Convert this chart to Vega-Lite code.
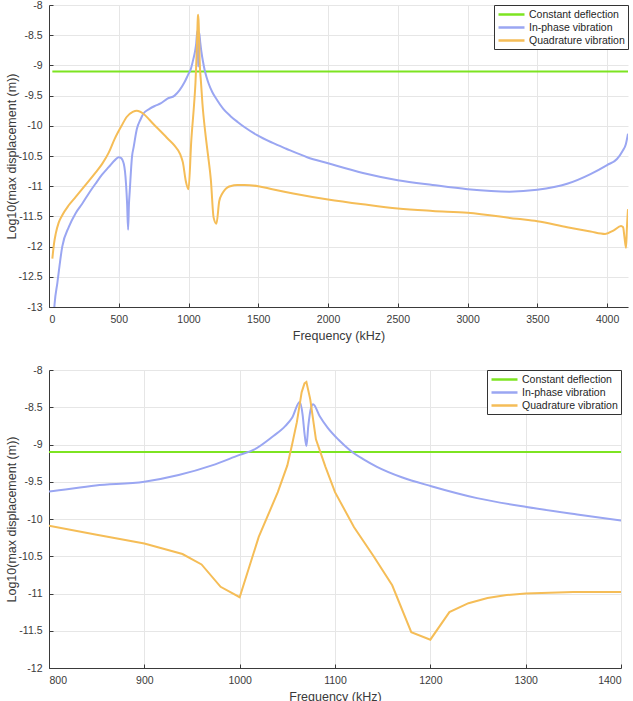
{
  "$schema": "https://vega.github.io/schema/vega-lite/v6.json",
  "padding": {"left": 5, "top": 0, "right": 0, "bottom": 0},
  "background": "white",
  "config": {
    "font": "Liberation Sans",
    "view": {"stroke": null},
    "axis": {
      "labelFont": "Liberation Sans",
      "titleFont": "Liberation Sans",
      "labelFontSize": 10.5,
      "titleFontSize": 12.5,
      "titleFontWeight": "normal",
      "labelColor": "#3a3a3a",
      "titleColor": "#3a3a3a",
      "domainColor": "#3a3a3a",
      "tickColor": "#3a3a3a",
      "gridColor": "#e6e6e6",
      "tickSize": -4,
      "labelPadding": 11
    },
    "axisX": {"titlePadding": 5},
    "axisY": {"titlePadding": 0},
    "legend": {
      "orient": "top-right",
      "offset": 0,
      "title": null,
      "strokeColor": "#333333",
      "fillColor": "white",
      "padding": 3,
      "labelFont": "Liberation Sans",
      "labelFontSize": 10.5,
      "labelColor": "#262626",
      "symbolType": "M-2.6,0H2.6",
      "symbolSize": 100,
      "symbolOffset": 8,
      "symbolStrokeWidth": 2.5,
      "rowPadding": 1,
      "labelOffset": 11,
      "labelExpr": "datum.label + '\u00a0\u00a0\u00a0\u00a0\u00a0\u00a0\u00a0\u00a0\u00a0\u00a0\u00a0\u00a0\u00a0\u00a0\u00a0\u00a0\u00a0\u00a0'"
    }
  },
  "datasets": {
    "c": [
      {"s": "Constant deflection", "f": 24, "v": -9.1},
      {"s": "Constant deflection", "f": 4150, "v": -9.1},
      {"s": "In-phase vibration", "f": 30, "v": -13.3},
      {"s": "In-phase vibration", "f": 40, "v": -12.95},
      {"s": "In-phase vibration", "f": 60, "v": -12.6},
      {"s": "In-phase vibration", "f": 95, "v": -12.0},
      {"s": "In-phase vibration", "f": 143, "v": -11.67},
      {"s": "In-phase vibration", "f": 190, "v": -11.45},
      {"s": "In-phase vibration", "f": 238, "v": -11.29},
      {"s": "In-phase vibration", "f": 285, "v": -11.12},
      {"s": "In-phase vibration", "f": 333, "v": -10.96},
      {"s": "In-phase vibration", "f": 380, "v": -10.81},
      {"s": "In-phase vibration", "f": 429, "v": -10.68},
      {"s": "In-phase vibration", "f": 476, "v": -10.56},
      {"s": "In-phase vibration", "f": 500, "v": -10.52},
      {"s": "In-phase vibration", "f": 515, "v": -10.53},
      {"s": "In-phase vibration", "f": 536, "v": -10.63},
      {"s": "In-phase vibration", "f": 552, "v": -10.96},
      {"s": "In-phase vibration", "f": 560, "v": -11.3},
      {"s": "In-phase vibration", "f": 567, "v": -11.72},
      {"s": "In-phase vibration", "f": 573, "v": -11.3},
      {"s": "In-phase vibration", "f": 579, "v": -11.07},
      {"s": "In-phase vibration", "f": 595, "v": -10.51},
      {"s": "In-phase vibration", "f": 607, "v": -10.35},
      {"s": "In-phase vibration", "f": 630, "v": -10.05},
      {"s": "In-phase vibration", "f": 655, "v": -9.9},
      {"s": "In-phase vibration", "f": 676, "v": -9.8},
      {"s": "In-phase vibration", "f": 720, "v": -9.72},
      {"s": "In-phase vibration", "f": 760, "v": -9.67},
      {"s": "In-phase vibration", "f": 800, "v": -9.63},
      {"s": "In-phase vibration", "f": 849, "v": -9.55},
      {"s": "In-phase vibration", "f": 900, "v": -9.5},
      {"s": "In-phase vibration", "f": 936, "v": -9.41},
      {"s": "In-phase vibration", "f": 971, "v": -9.28},
      {"s": "In-phase vibration", "f": 1000, "v": -9.14},
      {"s": "In-phase vibration", "f": 1015, "v": -9.07},
      {"s": "In-phase vibration", "f": 1034, "v": -8.9},
      {"s": "In-phase vibration", "f": 1048, "v": -8.75},
      {"s": "In-phase vibration", "f": 1055, "v": -8.64},
      {"s": "In-phase vibration", "f": 1063, "v": -8.43},
      {"s": "In-phase vibration", "f": 1066, "v": -8.6},
      {"s": "In-phase vibration", "f": 1068, "v": -8.85},
      {"s": "In-phase vibration", "f": 1070, "v": -9.02},
      {"s": "In-phase vibration", "f": 1072, "v": -8.75},
      {"s": "In-phase vibration", "f": 1075, "v": -8.5},
      {"s": "In-phase vibration", "f": 1077, "v": -8.46},
      {"s": "In-phase vibration", "f": 1084, "v": -8.62},
      {"s": "In-phase vibration", "f": 1092, "v": -8.77},
      {"s": "In-phase vibration", "f": 1104, "v": -8.94},
      {"s": "In-phase vibration", "f": 1116, "v": -9.08},
      {"s": "In-phase vibration", "f": 1130, "v": -9.2},
      {"s": "In-phase vibration", "f": 1144, "v": -9.3},
      {"s": "In-phase vibration", "f": 1170, "v": -9.44},
      {"s": "In-phase vibration", "f": 1201, "v": -9.56},
      {"s": "In-phase vibration", "f": 1249, "v": -9.72},
      {"s": "In-phase vibration", "f": 1301, "v": -9.84},
      {"s": "In-phase vibration", "f": 1354, "v": -9.94},
      {"s": "In-phase vibration", "f": 1400, "v": -10.02},
      {"s": "In-phase vibration", "f": 1488, "v": -10.15},
      {"s": "In-phase vibration", "f": 1600, "v": -10.28},
      {"s": "In-phase vibration", "f": 1700, "v": -10.38},
      {"s": "In-phase vibration", "f": 1850, "v": -10.52},
      {"s": "In-phase vibration", "f": 2000, "v": -10.62},
      {"s": "In-phase vibration", "f": 2250, "v": -10.78},
      {"s": "In-phase vibration", "f": 2500, "v": -10.9},
      {"s": "In-phase vibration", "f": 2750, "v": -10.98},
      {"s": "In-phase vibration", "f": 3000, "v": -11.05},
      {"s": "In-phase vibration", "f": 3300, "v": -11.09},
      {"s": "In-phase vibration", "f": 3500, "v": -11.06},
      {"s": "In-phase vibration", "f": 3714, "v": -10.96},
      {"s": "In-phase vibration", "f": 3881, "v": -10.8},
      {"s": "In-phase vibration", "f": 4000, "v": -10.65},
      {"s": "In-phase vibration", "f": 4071, "v": -10.55},
      {"s": "In-phase vibration", "f": 4110, "v": -10.42},
      {"s": "In-phase vibration", "f": 4135, "v": -10.3},
      {"s": "In-phase vibration", "f": 4150, "v": -10.13},
      {"s": "Quadrature vibration", "f": 24, "v": -12.2},
      {"s": "Quadrature vibration", "f": 36, "v": -11.95},
      {"s": "Quadrature vibration", "f": 48, "v": -11.79},
      {"s": "Quadrature vibration", "f": 70, "v": -11.6},
      {"s": "Quadrature vibration", "f": 95, "v": -11.48},
      {"s": "Quadrature vibration", "f": 140, "v": -11.32},
      {"s": "Quadrature vibration", "f": 190, "v": -11.18},
      {"s": "Quadrature vibration", "f": 240, "v": -11.04},
      {"s": "Quadrature vibration", "f": 286, "v": -10.91},
      {"s": "Quadrature vibration", "f": 335, "v": -10.77},
      {"s": "Quadrature vibration", "f": 381, "v": -10.63},
      {"s": "Quadrature vibration", "f": 429, "v": -10.44},
      {"s": "Quadrature vibration", "f": 470, "v": -10.22},
      {"s": "Quadrature vibration", "f": 520, "v": -10.0},
      {"s": "Quadrature vibration", "f": 558, "v": -9.85},
      {"s": "Quadrature vibration", "f": 600, "v": -9.77},
      {"s": "Quadrature vibration", "f": 630, "v": -9.75},
      {"s": "Quadrature vibration", "f": 676, "v": -9.8},
      {"s": "Quadrature vibration", "f": 720, "v": -9.9},
      {"s": "Quadrature vibration", "f": 760, "v": -10.0},
      {"s": "Quadrature vibration", "f": 800, "v": -10.09},
      {"s": "Quadrature vibration", "f": 850, "v": -10.21},
      {"s": "Quadrature vibration", "f": 900, "v": -10.33},
      {"s": "Quadrature vibration", "f": 940, "v": -10.47},
      {"s": "Quadrature vibration", "f": 960, "v": -10.61},
      {"s": "Quadrature vibration", "f": 980, "v": -10.91},
      {"s": "Quadrature vibration", "f": 1000, "v": -11.05},
      {"s": "Quadrature vibration", "f": 1020, "v": -10.24},
      {"s": "Quadrature vibration", "f": 1040, "v": -9.64},
      {"s": "Quadrature vibration", "f": 1050, "v": -9.28},
      {"s": "Quadrature vibration", "f": 1055, "v": -9.0},
      {"s": "Quadrature vibration", "f": 1060, "v": -8.7},
      {"s": "Quadrature vibration", "f": 1065, "v": -8.3},
      {"s": "Quadrature vibration", "f": 1068, "v": -8.18},
      {"s": "Quadrature vibration", "f": 1070, "v": -8.16},
      {"s": "Quadrature vibration", "f": 1074, "v": -8.39},
      {"s": "Quadrature vibration", "f": 1080, "v": -8.93},
      {"s": "Quadrature vibration", "f": 1090, "v": -9.3},
      {"s": "Quadrature vibration", "f": 1100, "v": -9.64},
      {"s": "Quadrature vibration", "f": 1120, "v": -10.11},
      {"s": "Quadrature vibration", "f": 1140, "v": -10.49},
      {"s": "Quadrature vibration", "f": 1160, "v": -10.89},
      {"s": "Quadrature vibration", "f": 1180, "v": -11.52},
      {"s": "Quadrature vibration", "f": 1200, "v": -11.62},
      {"s": "Quadrature vibration", "f": 1220, "v": -11.25},
      {"s": "Quadrature vibration", "f": 1240, "v": -11.13},
      {"s": "Quadrature vibration", "f": 1260, "v": -11.06},
      {"s": "Quadrature vibration", "f": 1280, "v": -11.02},
      {"s": "Quadrature vibration", "f": 1300, "v": -11.0},
      {"s": "Quadrature vibration", "f": 1350, "v": -10.98},
      {"s": "Quadrature vibration", "f": 1400, "v": -10.98},
      {"s": "Quadrature vibration", "f": 1500, "v": -11.0},
      {"s": "Quadrature vibration", "f": 1600, "v": -11.05},
      {"s": "Quadrature vibration", "f": 1750, "v": -11.12},
      {"s": "Quadrature vibration", "f": 2000, "v": -11.22},
      {"s": "Quadrature vibration", "f": 2250, "v": -11.3},
      {"s": "Quadrature vibration", "f": 2500, "v": -11.37},
      {"s": "Quadrature vibration", "f": 2750, "v": -11.41},
      {"s": "Quadrature vibration", "f": 3000, "v": -11.44},
      {"s": "Quadrature vibration", "f": 3355, "v": -11.54},
      {"s": "Quadrature vibration", "f": 3500, "v": -11.58},
      {"s": "Quadrature vibration", "f": 3714, "v": -11.68},
      {"s": "Quadrature vibration", "f": 3881, "v": -11.75},
      {"s": "Quadrature vibration", "f": 3986, "v": -11.79},
      {"s": "Quadrature vibration", "f": 4048, "v": -11.73},
      {"s": "Quadrature vibration", "f": 4100, "v": -11.66},
      {"s": "Quadrature vibration", "f": 4115, "v": -11.68},
      {"s": "Quadrature vibration", "f": 4125, "v": -11.85},
      {"s": "Quadrature vibration", "f": 4136, "v": -12.02},
      {"s": "Quadrature vibration", "f": 4142, "v": -11.7},
      {"s": "Quadrature vibration", "f": 4150, "v": -11.38}
    ]
  },
  "spacing": 23,
  "resolve": {"scale": {"x": "independent", "y": "independent", "color": "independent"}, "legend": {"color": "independent"}},
  "vconcat": [
    {
      "width": 579,
      "height": 302,
      "data": {"name": "c"},
      "mark": {"type": "line", "clip": true, "strokeWidth": 2, "interpolate": "monotone"},
      "encoding": {
        "x": {"field": "f", "type": "quantitative", "scale": {"domain": [0, 4150], "nice": false},
              "axis": {"values": [0, 500, 1000, 1500, 2000, 2500, 3000, 3500, 4000], "format": "d", "title": "Frequency (kHz)"}},
        "y": {"field": "v", "type": "quantitative", "scale": {"domain": [-13, -8], "nice": false},
              "axis": {"values": [-13, -12.5, -12, -11.5, -11, -10.5, -10, -9.5, -9, -8.5, -8], "labelExpr": "toString(datum.value)", "title": "Log10(max displacement (m))"}},
        "color": {"field": "s", "type": "nominal",
                  "scale": {"domain": ["Constant deflection", "In-phase vibration", "Quadrature vibration"], "range": ["#7de421", "#9aa6f2", "#f5bd57"]}}
      }
    },
    {
      "width": 572,
      "height": 298,
      "data": {"name": "c"},
      "encoding": {
        "x": {"field": "f", "type": "quantitative", "scale": {"domain": [800, 1400], "nice": false},
              "axis": {"values": [800, 900, 1000, 1100, 1200, 1300, 1400], "format": "d", "title": "Frequency (kHz)"}},
        "y": {"field": "v", "type": "quantitative", "scale": {"domain": [-12, -8], "nice": false},
              "axis": {"values": [-12, -11.5, -11, -10.5, -10, -9.5, -9, -8.5, -8], "labelExpr": "toString(datum.value)", "title": "Log10(max displacement (m))"}},
        "color": {"field": "s", "type": "nominal",
                  "scale": {"domain": ["Constant deflection", "In-phase vibration", "Quadrature vibration"], "range": ["#7de421", "#9aa6f2", "#f5bd57"]}}
      },
      "layer": [
        {
          "transform": [{"filter": "datum.s != 'Quadrature vibration'"}],
          "mark": {"type": "line", "clip": true, "strokeWidth": 2, "interpolate": "monotone"}
        },
        {
          "transform": [{"filter": "datum.s == 'Quadrature vibration'"}],
          "mark": {"type": "line", "clip": true, "strokeWidth": 2}
        }
      ]
    }
  ]
}
